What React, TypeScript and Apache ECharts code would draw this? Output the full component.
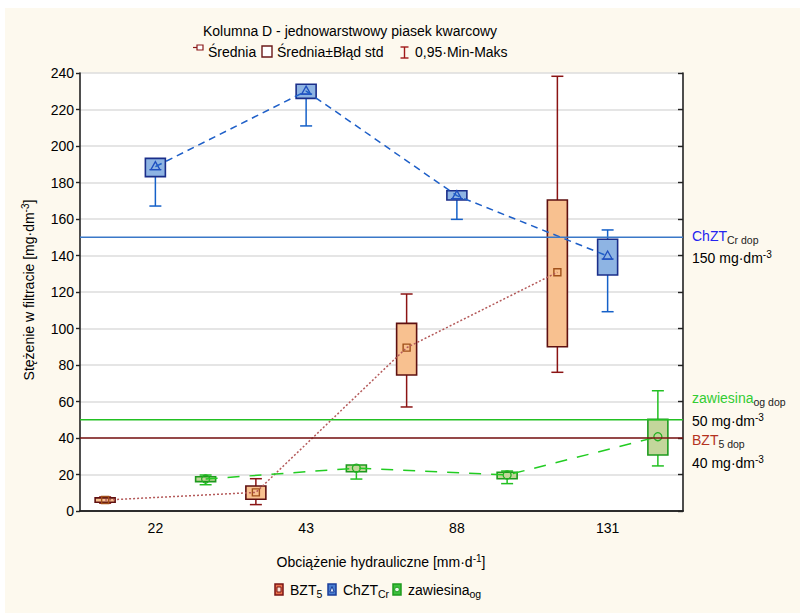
import React, { useEffect, useRef } from 'react';
import * as echarts from 'echarts';

const FONT = '"Liberation Sans", Arial, sans-serif';

const categories = ['22', '43', '88', '131'];

// BZT5
const bztMean = [6.0, 10.2, 89.5, 130.8];
const bztSeLow = [4.8, 6.4, 74.5, 90.0];
const bztSeHigh = [7.2, 13.7, 102.8, 170.4];
const bztMin = [4.3, 3.5, 57.0, 76.0];
const bztMax = [7.7, 17.7, 118.9, 238.2];

// ChZT Cr
const chztMean = [188.7, 230.1, 172.8, 139.7];
const chztSeLow = [183.2, 226.1, 170.4, 129.3];
const chztSeHigh = [193.2, 233.8, 175.5, 148.9];
const chztMin = [167.1, 211.0, 159.8, 109.2];
const chztMax = [192.0, 232.0, 174.0, 154.0];

// zawiesina og
const zawMean = [17.5, 23.5, 19.7, 40.7];
const zawSeLow = [16.1, 21.5, 17.7, 30.7];
const zawSeHigh = [18.8, 25.2, 21.2, 50.2];
const zawMin = [14.4, 17.5, 15.0, 24.7];
const zawMax = [19.7, 24.5, 21.9, 65.9];

// permissible values
const refChzt = 150;
const refZaw = 50;
const refBzt = 40;

const groupPos = (catIdx: number, g: number) => catIdx * 3 + 0.5 + g;

const rows = (g: number, m: number[], lo: number[], hi: number[], mn: number[], mx: number[]) =>
  categories.map((_, i) => [groupPos(i, g), m[i], lo[i], hi[i], mn[i], mx[i]]);
const meanLine = (g: number, m: number[]) => categories.map((_, i) => [groupPos(i, g), m[i]]);

type Cfg = { fill: string; border: string; whisker: string; marker: string; shape: string };

const renderBox = (cfg: Cfg) => (params: any, api: any) => {
  const x = api.value(0);
  const pm = api.coord([x, api.value(1)]);
  const yLo = api.coord([x, api.value(2)])[1];
  const yHi = api.coord([x, api.value(3)])[1];
  const yMin = api.coord([x, api.value(4)])[1];
  const yMax = api.coord([x, api.value(5)])[1];
  const cx = pm[0];
  const cy = pm[1];
  const bw = 20;
  const cw = 12;
  const ws = { stroke: cfg.whisker, lineWidth: 1.5 };
  const children: any[] = [
    { type: 'line', shape: { x1: cx, y1: yMin, x2: cx, y2: yMax }, style: ws },
    { type: 'line', shape: { x1: cx - cw / 2, y1: yMin, x2: cx + cw / 2, y2: yMin }, style: ws },
    { type: 'line', shape: { x1: cx - cw / 2, y1: yMax, x2: cx + cw / 2, y2: yMax }, style: ws },
    {
      type: 'rect',
      shape: { x: cx - bw / 2, y: yHi, width: bw, height: Math.max(yLo - yHi, 1) },
      style: { fill: cfg.fill, stroke: cfg.border, lineWidth: 1.6 },
    },
  ];
  if (cfg.shape === 'square') {
    children.push({
      type: 'rect',
      shape: { x: cx - 3.5, y: cy - 3.5, width: 7, height: 7 },
      style: { fill: 'none', stroke: cfg.marker, lineWidth: 1.4 },
    });
  } else if (cfg.shape === 'triangle') {
    children.push({
      type: 'polygon',
      shape: { points: [[cx, cy - 5], [cx - 4.5, cy + 3], [cx + 4.5, cy + 3]] },
      style: { fill: 'none', stroke: cfg.marker, lineWidth: 1.3 },
    });
    children.push({
      type: 'line',
      shape: { x1: cx - 6, y1: cy + 3, x2: cx + 6, y2: cy + 3 },
      style: { stroke: cfg.marker, lineWidth: 1.3 },
    });
  } else {
    children.push({
      type: 'circle',
      shape: { cx, cy, r: 4 },
      style: { fill: 'none', stroke: cfg.marker, lineWidth: 1.3 },
    });
  }
  return { type: 'group', children };
};

const bztCfg: Cfg = { fill: '#F8C190', border: '#5E1010', whisker: '#8B1414', marker: '#A0501A', shape: 'square' };
const chztCfg: Cfg = { fill: '#8EB4E3', border: '#1A2E8A', whisker: '#1560C8', marker: '#1F4FBF', shape: 'triangle' };
const zawCfg: Cfg = { fill: '#C3D69B', border: '#1E9A1E', whisker: '#22C022', marker: '#22B022', shape: 'circle' };

const txt = (x: number, y: number, text: string, extra: any = {}) => ({
  type: 'text',
  x,
  y,
  style: { text, fontSize: 14, fontFamily: FONT, fill: '#000', verticalAlign: 'middle', ...extra },
});

const richText = (x: number, y: number, text: string, color: string, subColor: string = color, extra: any = {}) => ({
  type: 'text',
  x,
  y,
  style: {
    text,
    fontFamily: FONT,
    fontSize: 14,
    fill: color,
    verticalAlign: 'middle',
    ...extra,
    rich: {
      m: { fontSize: 14, fontFamily: FONT, fill: color, lineHeight: 18 },
      sub: { fontSize: 10.5, fontFamily: FONT, fill: subColor, lineHeight: 8, verticalAlign: 'bottom' },
      sup: { fontSize: 10, fontFamily: FONT, fill: subColor, lineHeight: 10, verticalAlign: 'top' },
    },
  },
});

export default function App() {
  const ref = useRef<HTMLDivElement>(null);

  useEffect(() => {
    if (!ref.current) return;
    const chart = echarts.init(ref.current, undefined, { renderer: 'svg' });

    const legendIcon = (x: number, y: number, fill: string, stroke: string, inner: any) => ({
      type: 'group',
      children: [
        { type: 'rect', shape: { x, y, width: 8, height: 11 }, style: { fill, stroke, lineWidth: 1.5 } },
        inner,
      ],
    });

    const option: any = {
      animation: false,
      backgroundColor: '#FDF9EE',
      textStyle: { fontFamily: FONT },
      grid: {
        left: 75,
        top: 65,
        width: 603,
        height: 438,
        show: true,
        backgroundColor: '#FFFFFF',
        borderWidth: 0,
      },
      xAxis: [
        {
          type: 'category',
          data: categories,
          position: 'bottom',
          boundaryGap: true,
          axisLine: { lineStyle: { color: '#222', width: 1.6 } },
          axisTick: { alignWithLabel: true, length: 4, lineStyle: { color: '#222', width: 1.4 } },
          axisLabel: { fontSize: 14, color: '#000', margin: 10, fontFamily: FONT },
          splitLine: { show: false },
        },
        {
          type: 'category',
          data: categories,
          position: 'top',
          boundaryGap: true,
          axisLine: { lineStyle: { color: '#222', width: 1.6 } },
          axisTick: { alignWithLabel: true, inside: true, length: 5, lineStyle: { color: '#222', width: 1.4 } },
          axisLabel: { show: false },
          splitLine: { show: false },
        },
        {
          type: 'value',
          min: 0,
          max: 12,
          show: false,
          splitLine: { show: false },
        },
      ],
      yAxis: [
        {
          type: 'value',
          min: 0,
          max: 240,
          interval: 20,
          axisLine: { show: true, lineStyle: { color: '#222', width: 1.6 } },
          axisTick: { show: true, length: 4, lineStyle: { color: '#222', width: 1.4 } },
          axisLabel: { fontSize: 14, color: '#000', margin: 6, fontFamily: FONT },
          splitLine: { show: true, lineStyle: { color: '#DDDDDD', width: 1.5 } },
        },
        {
          type: 'value',
          min: 0,
          max: 240,
          interval: 20,
          position: 'right',
          axisLine: { show: true, lineStyle: { color: '#222', width: 1.6 } },
          axisTick: { show: true, inside: true, length: 5, lineStyle: { color: '#222', width: 1.4 } },
          axisLabel: { show: false },
          splitLine: { show: false },
        },
      ],
      series: [
        {
          type: 'custom',
          name: 'BZT5',
          xAxisIndex: 2,
          yAxisIndex: 0,
          renderItem: renderBox(bztCfg),
          data: rows(0, bztMean, bztSeLow, bztSeHigh, bztMin, bztMax),
          z: 2,
        },
        {
          type: 'custom',
          name: 'ChZT',
          xAxisIndex: 2,
          yAxisIndex: 0,
          renderItem: renderBox(chztCfg),
          data: rows(1, chztMean, chztSeLow, chztSeHigh, chztMin, chztMax),
          z: 2,
        },
        {
          type: 'custom',
          name: 'zawiesina',
          xAxisIndex: 2,
          yAxisIndex: 0,
          renderItem: renderBox(zawCfg),
          data: rows(2, zawMean, zawSeLow, zawSeHigh, zawMin, zawMax),
          z: 2,
        },
        {
          type: 'line',
          xAxisIndex: 2,
          data: meanLine(0, bztMean),
          symbol: 'none',
          lineStyle: { color: '#B45A5A', width: 1.5, type: [2, 2] },
          z: 3,
        },
        {
          type: 'line',
          xAxisIndex: 2,
          data: meanLine(1, chztMean),
          symbol: 'none',
          lineStyle: { color: '#1E5FC8', width: 1.5, type: [7, 5] },
          z: 3,
        },
        {
          type: 'line',
          xAxisIndex: 2,
          data: meanLine(2, zawMean),
          symbol: 'none',
          lineStyle: { color: '#22CC22', width: 1.5, type: [12, 10] },
          z: 3,
        },
        {
          type: 'line',
          xAxisIndex: 2,
          data: [[0, refChzt], [12, refChzt]],
          symbol: 'none',
          lineStyle: { color: '#3A78C8', width: 1.6 },
          z: 4,
        },
        {
          type: 'line',
          xAxisIndex: 2,
          data: [[0, refZaw], [12, refZaw]],
          symbol: 'none',
          lineStyle: { color: '#22C022', width: 1.6 },
          z: 4,
        },
        {
          type: 'line',
          xAxisIndex: 2,
          data: [[0, refBzt], [12, refBzt]],
          symbol: 'none',
          lineStyle: { color: '#7A1414', width: 1.6 },
          z: 4,
        },
      ],
      graphic: [
        txt(345, 23, 'Kolumna D - jednowarstwowy piasek kwarcowy', { textAlign: 'center' }),
        {
          type: 'rect',
          shape: { x: 192, y: 37, width: 6, height: 5 },
          style: { fill: '#fff', stroke: '#8B1A1A', lineWidth: 1.2 },
        },
        {
          type: 'line',
          shape: { x1: 188, y1: 39.5, x2: 192, y2: 39.5 },
          style: { stroke: '#8B1A1A', lineWidth: 1.2 },
        },
        txt(203, 44, 'Średnia'),
        {
          type: 'rect',
          shape: { x: 257, y: 38, width: 10, height: 11 },
          style: { fill: '#fff', stroke: '#6B1A1A', lineWidth: 1.4 },
        },
        txt(272, 44, 'Średnia±Błąd std'),
        {
          type: 'group',
          children: [
            { type: 'line', shape: { x1: 399.5, y1: 39, x2: 399.5, y2: 50 }, style: { stroke: '#A01818', lineWidth: 1.4 } },
            { type: 'line', shape: { x1: 395.5, y1: 39, x2: 403.5, y2: 39 }, style: { stroke: '#A01818', lineWidth: 1.4 } },
            { type: 'line', shape: { x1: 395.5, y1: 50, x2: 403.5, y2: 50 }, style: { stroke: '#A01818', lineWidth: 1.4 } },
          ],
        },
        txt(410, 44, '0,95·Min-Maks'),
        {
          type: 'text',
          x: 24,
          y: 282,
          rotation: Math.PI / 2,
          style: {
            text: '{m|Stężenie w filtracie [mg·dm}{sup|-3}{m|]}',
            fontSize: 14,
            fontFamily: FONT,
            fill: '#000',
            textAlign: 'center',
            verticalAlign: 'middle',
            rich: {
              m: { fontSize: 14, fontFamily: FONT, fill: '#000', lineHeight: 18 },
              sup: { fontSize: 10, fontFamily: FONT, fill: '#000', lineHeight: 10, verticalAlign: 'top' },
            },
          },
        },
        richText(376, 554, '{m|Obciążenie hydrauliczne [mm·d}{sup|-1}{m|]}', '#000', '#000', { textAlign: 'center' }),
        legendIcon(270, 576, '#E8704A', '#7A1414', {
          type: 'rect',
          shape: { x: 272, y: 579, width: 4, height: 5 },
          style: { fill: '#FCE4D6', stroke: '#7A1414', lineWidth: 1 },
        }),
        richText(285, 582, '{m|BZT}{sub|5}', '#000'),
        legendIcon(323, 576, '#4A7FD0', '#1A3E9A', {
          type: 'polygon',
          shape: { points: [[327, 578.5], [324.8, 584], [329.2, 584]] },
          style: { fill: '#DDE8F8', stroke: '#1A3E9A', lineWidth: 1 },
        }),
        richText(338, 582, '{m|ChZT}{sub|Cr}', '#000'),
        legendIcon(388, 576, '#3CC03C', '#1E9A1E', {
          type: 'circle',
          shape: { cx: 392, cy: 581.5, r: 2.3 },
          style: { fill: '#E6F8E6', stroke: '#1E9A1E', lineWidth: 1 },
        }),
        richText(403, 582, '{m|zawiesina}{sub|og}', '#000'),
        richText(687, 228, '{m|ChZT}{sub|Cr dop}', '#2424F0', '#222'),
        richText(687, 250, '{m|150 mg·dm}{sup|-3}', '#000'),
        richText(687, 390, '{m|zawiesina}{sub|og dop}', '#33CC33', '#222'),
        richText(687, 413, '{m|50 mg·dm}{sup|-3}', '#000'),
        richText(687, 432, '{m|BZT}{sub|5 dop}', '#B4321E', '#222'),
        richText(687, 455, '{m|40 mg·dm}{sup|-3}', '#000'),
      ],
    };

    chart.setOption(option);
    return () => chart.dispose();
  }, []);

  return (
    <div
      ref={ref}
      style={{ position: 'absolute', left: 5, top: 8, width: 795, height: 605 }}
    />
  );
}
